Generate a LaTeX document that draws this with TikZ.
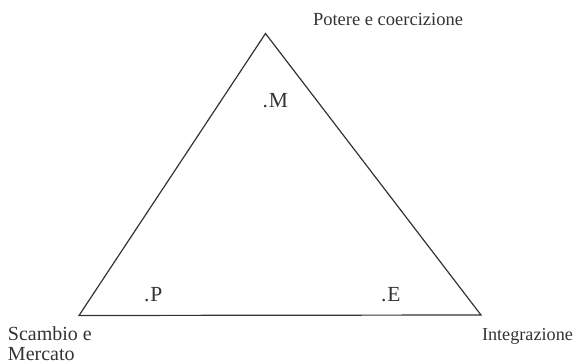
\documentclass[tikz,border=0pt]{standalone}
\usepackage{fontspec}
\setmainfont{Liberation Serif}
\begin{document}
\begin{tikzpicture}[x=1pt,y=-1pt,
  lbl/.style={anchor=base west,inner sep=0pt,outer sep=0pt,text=black!80,font=\fontsize{20}{20}\selectfont},
  inlbl/.style={lbl,font=\fontsize{21.5}{22}\selectfont},
  edge/.style={draw=black!80,line width=1.2pt,line join=miter}]
\useasboundingbox (0,0) rectangle (574,364);
\coordinate (top) at (265.5,33.5);
\coordinate (bl) at (79,315.5);
\coordinate (br) at (481,315);
\draw[edge] (top) -- (br) -- (bl) -- cycle;
\node[lbl,font=\fontsize{18.5}{20}\selectfont] (pot) at (313,25) {Potere e coercizione};
\node[lbl,font=\fontsize{18.2}{20}\selectfont] (int) at (482,340.5) {Integrazione};
\node[lbl] (sca) at (8,340.5) {Scambio e};
\node[lbl] (mer) at (8,360.5) {Mercato};
\node[inlbl] (m) at (262.5,107.5) {.\kern1pt M};
\node[inlbl] (p) at (144,301.5) {.\kern1pt P};
\node[inlbl] (e) at (381,301.5) {.\kern1pt E};
\end{tikzpicture}
\end{document}
